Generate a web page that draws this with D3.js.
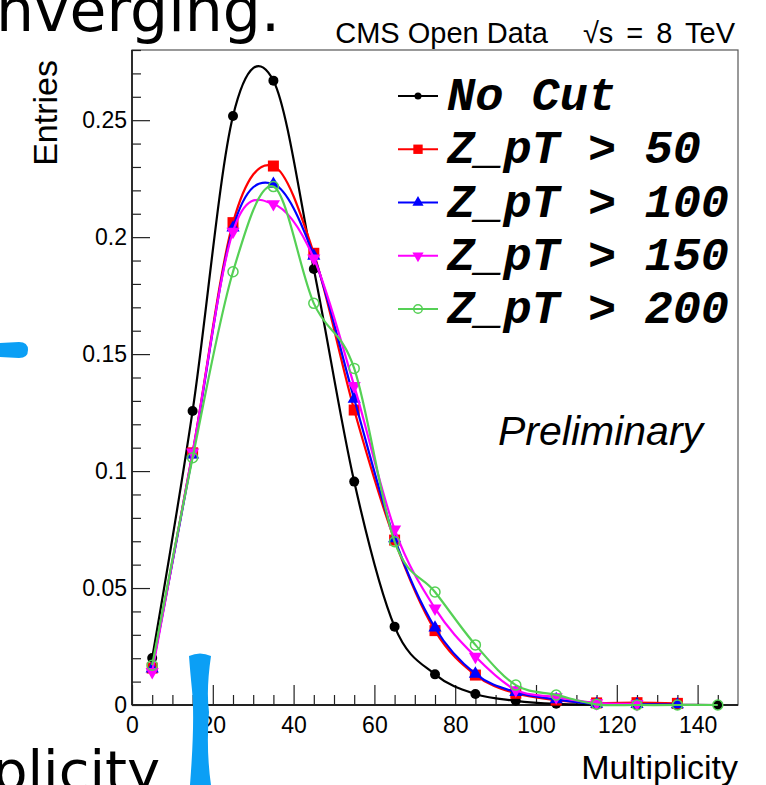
<!DOCTYPE html>
<html lang="en">
<head>
    <meta charset="UTF-8">
    <title>Multiplicity</title>
    <script src="https://d3js.org/d3.v7.min.js"></script>
    <style>
        body { margin: 0; background: #fff; }
        svg { display: block; }
    </style>
</head>
<body>
    <div id="chart"></div>

    <script>
        // bin centres (multiplicity) and normalised entries per selection
        const bins = [5, 15, 25, 35, 45, 55, 65, 75, 85, 95, 105, 115, 125, 135, 145];
        const noCut = [0.0201, 0.1257, 0.2518, 0.2669, 0.1864, 0.0955, 0.0335, 0.0131, 0.0047, 0.0018, 0.0005, 0.0002, 0.0001, 0.0001, 0.0000];
        const zpt50 = [0.0158, 0.1078, 0.2062, 0.2304, 0.1931, 0.1261, 0.0705, 0.0318, 0.0128, 0.0050, 0.0021, 0.0009, 0.0010, 0.0007];
        const zpt100 = [0.0155, 0.1070, 0.2040, 0.2227, 0.1920, 0.1308, 0.0712, 0.0330, 0.0133, 0.0055, 0.0024, 0.0004, 0.0003, 0.0002];
        const zpt150 = [0.0142, 0.1080, 0.2024, 0.2142, 0.1910, 0.1364, 0.0751, 0.0413, 0.0207, 0.0064, 0.0034, 0.0008, 0.0005];
        const zpt200 = [0.0170, 0.1057, 0.1852, 0.2216, 0.1717, 0.1439, 0.0698, 0.0483, 0.0257, 0.0085, 0.0043, 0.0003, 0.0000, 0.0000, 0.0000];

        const labels = ["No Cut", "Z_pT > 50", "Z_pT > 100", "Z_pT > 150", "Z_pT > 200"];
        const xTicks = [0, 20, 40, 60, 80, 100, 120, 140];
        const yTicks = [0, 0.05, 0.1, 0.15, 0.2, 0.25];

        const series = [
            { name: labels[0], values: noCut, color: "#000000", marker: "circle" },
            { name: labels[1], values: zpt50, color: "#ff0000", marker: "square" },
            { name: labels[2], values: zpt100, color: "#0000ff", marker: "triangle" },
            { name: labels[3], values: zpt150, color: "#ff00ff", marker: "triangleDown" },
            { name: labels[4], values: zpt200, color: "#55d055", marker: "open" }
        ];

        const width = 766, height = 785;
        const sans = "'Liberation Sans', Arial, Helvetica, sans-serif";

        const svg = d3.select("#chart")
            .append("svg")
            .attr("width", width)
            .attr("height", height);

        const x = d3.scaleLinear().domain([0, 150]).range([132, 738]);
        const y = d3.scaleLinear().domain([0, 0.28]).range([705, 50]);

        // frame
        svg.append("rect")
            .attr("x", x(0)).attr("y", y(0.28))
            .attr("width", x(150) - x(0)).attr("height", y(0) - y(0.28))
            .attr("fill", "none").attr("stroke", "#555").attr("stroke-width", 1.2);

        // x axis, ticks inside the frame
        const xMinor = d3.range(5, 150, 5).filter(v => v % 20 !== 0);
        svg.append("g")
            .attr("transform", `translate(0,${y(0)})`)
            .call(d3.axisBottom(x).tickValues(xMinor).tickSize(-10).tickFormat(""))
            .call(g => g.select(".domain").remove());
        const gx = svg.append("g")
            .attr("transform", `translate(0,${y(0)})`)
            .call(d3.axisBottom(x).tickValues(xTicks).tickSize(-20).tickPadding(12).tickFormat(d3.format("d")));
        gx.select(".domain").remove();
        gx.selectAll("text").attr("font-size", 23).attr("font-family", sans).attr("fill", "#000");

        // y axis
        const yMinor = d3.range(1, 29).map(v => v / 100).filter(v => Math.round(v * 100) % 5 !== 0);
        svg.append("g")
            .attr("transform", `translate(${x(0)},0)`)
            .call(d3.axisLeft(y).tickValues(yMinor).tickSize(-9).tickFormat(""))
            .call(g => g.select(".domain").remove());
        const gy = svg.append("g")
            .attr("transform", `translate(${x(0)},0)`)
            .call(d3.axisLeft(y).tickValues(yTicks).tickSize(-18).tickPadding(5).tickFormat(d => String(d)));
        gy.select(".domain").remove();
        gy.selectAll("text").attr("font-size", 23).attr("font-family", sans).attr("fill", "#000");
        svg.selectAll(".tick line").attr("stroke", "#222").attr("stroke-width", 1.2);

        // axis lines
        svg.append("line")
            .attr("x1", x(0)).attr("x2", x(150)).attr("y1", y(0)).attr("y2", y(0))
            .attr("stroke", "#222").attr("stroke-width", 1.8);
        svg.append("line")
            .attr("x1", x(0)).attr("x2", x(0)).attr("y1", y(0)).attr("y2", y(0.28))
            .attr("stroke", "#222").attr("stroke-width", 1.8);

        // axis titles
        svg.append("text")
            .attr("x", 738).attr("y", 779)
            .attr("text-anchor", "end")
            .attr("font-family", sans).attr("font-size", 34)
            .text("Multiplicity");
        svg.append("text")
            .attr("transform", "translate(57,60) rotate(-90)")
            .attr("text-anchor", "end")
            .attr("font-family", sans).attr("font-size", 34)
            .text("Entries");

        // header
        svg.append("text")
            .attr("x", 735).attr("y", 43)
            .attr("text-anchor", "end")
            .attr("font-family", sans).attr("font-size", 29)
            .attr("word-spacing", 5)
            .text("√s = 8 TeV");
        svg.append("text")
            .attr("x", 548).attr("y", 43)
            .attr("text-anchor", "end")
            .attr("font-family", sans).attr("font-size", 29)
            .text("CMS Open Data");

        svg.append("text")
            .attr("x", 498).attr("y", 445)
            .attr("font-family", sans).attr("font-size", 41)
            .attr("font-style", "italic")
            .text("Preliminary");

        // curves
        const line = d3.line()
            .x((d, i) => x(bins[i]))
            .y(d => y(d))
            .curve(d3.curveCardinal.tension(0));

        function marker(g, type, color, px, py, s) {
            if (type === "circle") {
                g.append("circle").attr("cx", px).attr("cy", py).attr("r", 5 * s).attr("fill", color);
            } else if (type === "open") {
                g.append("circle").attr("cx", px).attr("cy", py).attr("r", 5 * s)
                    .attr("fill", "none").attr("stroke", color).attr("stroke-width", 1.5);
            } else if (type === "square") {
                g.append("rect").attr("x", px - 5.5 * s).attr("y", py - 5.5 * s)
                    .attr("width", 11 * s).attr("height", 11 * s).attr("fill", color);
            } else {
                const rot = type === "triangleDown" ? 180 : 0;
                g.append("path")
                    .attr("d", d3.symbol().type(d3.symbolTriangle).size(75 * s * s)())
                    .attr("transform", `translate(${px},${py}) rotate(${rot})`)
                    .attr("fill", color);
            }
        }

        series.forEach(s => {
            const g = svg.append("g");
            g.append("path")
                .datum(s.values)
                .attr("d", line)
                .attr("fill", "none")
                .attr("stroke", s.color)
                .attr("stroke-width", 2.2);
            s.values.forEach((v, i) => marker(g, s.marker, s.color, x(bins[i]), y(v), 1));
        });

        // legend
        const legY = d3.scalePoint().domain(labels).range([96, 309]);
        const leg = svg.append("g");
        series.forEach(s => {
            const ly = legY(s.name);
            leg.append("line")
                .attr("x1", 398).attr("x2", 438).attr("y1", ly).attr("y2", ly)
                .attr("stroke", s.color).attr("stroke-width", 2);
            marker(leg, s.marker, s.color, 418, ly, s.marker === "circle" ? 0.7 : 0.85);
            leg.append("text")
                .attr("x", 447).attr("y", ly + 14)
                .attr("font-family", "'Liberation Mono', 'Courier New', monospace")
                .attr("font-weight", "bold").attr("font-style", "italic")
                .attr("font-size", 47)
                .attr("xml:space", "preserve")
                .text(s.name);
        });

        // slide leftovers around the plot
        const deco = svg.append("g");
        deco.append("text")
            .attr("x", -4).attr("y", 31)
            .attr("font-family", "'DejaVu Sans', sans-serif").attr("font-size", 60)
            .text("nverging.");
        deco.append("text")
            .attr("x", -8).attr("y", 790)
            .attr("font-family", "'DejaVu Sans', sans-serif").attr("font-size", 56)
            .text("plicity");
        deco.append("path")
            .attr("d", "M0,343 L19,342 Q28,342 28,350 Q28,358 19,358 L0,357 Z")
            .attr("fill", "#0b9ff5");
        deco.append("path")
            .attr("d", "M189,656 Q200,651 211,656 Q206,690 209,712 Q206,750 211,785 L190,785 Q195,720 192,690 Q190,670 189,656 Z")
            .attr("fill", "#0b9ff5");
    </script>
</body>
</html>
